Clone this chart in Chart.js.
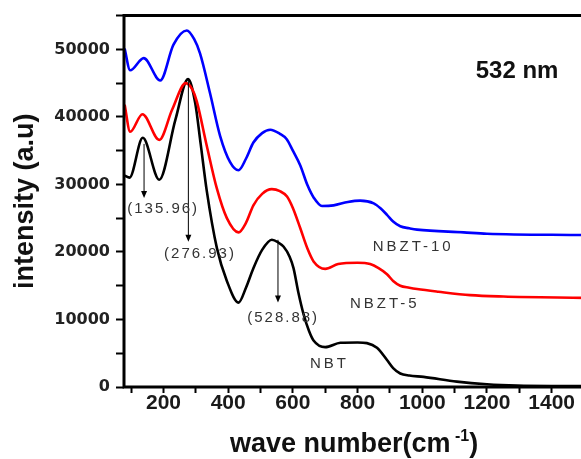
<!DOCTYPE html>
<html>
<head>
<meta charset="utf-8">
<script src="https://cdn.jsdelivr.net/npm/chart.js@4.4.1/dist/chart.umd.min.js"></script>
<style>
  html, body { margin: 0; padding: 0; background: #fff; overflow: hidden; width: 581px; height: 459px; }
  canvas { display: block; }
</style>
</head>
<body>
<canvas id="ramanChart" width="600" height="459"></canvas>
<script>
// Dados (espectro Raman, 532 nm)
const waveNBT = [80, 95, 136, 187, 237, 276, 298, 315, 334, 365, 396, 432, 455, 478, 505, 535, 555, 571, 590, 602, 617, 633, 650, 664, 700, 747, 800, 829, 860, 891, 910, 932, 960, 1004, 1107, 1200, 1293, 1400, 1500];
const intNBT  = [31300, 31000, 36900, 30700, 39600, 45600, 42100, 36000, 29000, 20600, 15700, 12500, 14700, 17600, 20300, 21800, 21400, 20800, 19300, 17600, 14000, 10800, 8300, 6900, 5900, 6550, 6600, 6500, 5800, 4000, 2800, 2000, 1700, 1500, 800, 400, 200, 150, 150];

const waveNBZT5 = [80, 97, 135, 187, 227, 269, 290, 303, 334, 365, 396, 432, 455, 478, 505, 535, 560, 582, 600, 623, 645, 664, 700, 740, 800, 839, 865, 891, 910, 932, 960, 984, 1050, 1148, 1251, 1500];
const intNBZT5  = [41800, 37800, 40400, 36600, 41100, 45000, 44000, 42300, 35700, 29400, 25000, 22900, 24300, 26900, 28600, 29300, 29000, 28200, 26500, 23500, 20500, 18600, 17500, 18200, 18400, 18200, 17600, 16700, 15700, 15000, 14700, 14500, 14100, 13600, 13400, 13200];

const waveNBZT10 = [80, 97, 139, 190, 231, 272, 295, 313, 344, 375, 406, 432, 455, 478, 505, 530, 560, 581, 600, 623, 645, 665, 690, 726, 770, 808, 850, 870, 891, 910, 932, 960, 984, 1128, 1200, 1500];
const intNBZT10  = [50100, 46900, 48700, 45400, 50700, 52800, 51500, 49400, 43500, 37200, 33300, 32100, 33800, 36200, 37600, 38100, 37500, 36700, 35000, 32800, 29900, 28000, 26800, 26900, 27400, 27600, 27200, 26500, 25500, 24500, 23800, 23500, 23300, 22900, 22700, 22500];

// Setas e rótulos dos picos
const peakLabels = ['(135.96)', '(276.93)', '(528.88)'];
const peakX      = [140, 277, 554];
const arrowFrom  = [36000, 45600, 21800];
const arrowTo    = [28000, 21500, 12500];
const labelX     = [199, 313, 570];
const labelY     = [26400, 19650, 10250];

// Nomes das amostras
const sampleNames = ['NBZT-10', 'NBZT-5', 'NBT'];
const sampleX     = [972, 884, 713];
const sampleY     = [20800, 12300, 3500];

const toPoints = (xs, ys) => xs.map((x, i) => ({ x: x, y: ys[i] }));

const decorPlugin = {
    id: 'decor',
    afterDraw(chart) {
        const c = chart.ctx;
        const a = chart.chartArea;
        const xs = chart.scales.x;
        const ys = chart.scales.y;

        // Moldura (topo, esquerda, base)
        c.save();
        c.strokeStyle = '#000';
        c.lineWidth = 3;
        c.beginPath();
        c.moveTo(a.right + 5, a.top);
        c.lineTo(a.left, a.top);
        c.lineTo(a.left, a.bottom);
        c.lineTo(a.right + 5, a.bottom);
        c.stroke();
        c.restore();

        // Setas dos picos
        c.save();
        c.strokeStyle = '#000';
        c.fillStyle = '#000';
        c.lineWidth = 1;
        peakX.forEach((px, i) => {
            const x = xs.getPixelForValue(px);
            const y1 = ys.getPixelForValue(arrowFrom[i]);
            const y2 = ys.getPixelForValue(arrowTo[i]);
            c.beginPath();
            c.moveTo(x, y1);
            c.lineTo(x, y2 - 6);
            c.stroke();
            c.beginPath();
            c.moveTo(x - 3, y2 - 7);
            c.lineTo(x + 3, y2 - 7);
            c.lineTo(x, y2);
            c.closePath();
            c.fill();
        });
        c.restore();

        // Rótulos dos picos
        c.save();
        c.fillStyle = '#333';
        c.font = '15px "Liberation Sans", Arial, sans-serif';
        c.letterSpacing = '2px';
        c.textAlign = 'center';
        c.textBaseline = 'middle';
        peakLabels.forEach((t, i) => {
            c.fillText(t, xs.getPixelForValue(labelX[i]), ys.getPixelForValue(labelY[i]));
        });
        c.letterSpacing = '3px';
        sampleNames.forEach((t, i) => {
            c.fillText(t, xs.getPixelForValue(sampleX[i]), ys.getPixelForValue(sampleY[i]));
        });
        c.letterSpacing = '0px';
        c.fillStyle = '#111';
        c.font = 'bold 24px "Liberation Sans", Arial, sans-serif';
        c.fillText('532 nm', xs.getPixelForValue(1293), ys.getPixelForValue(46800));
        c.restore();

        // Títulos dos eixos
        c.save();
        c.fillStyle = '#111';
        c.textBaseline = 'alphabetic';
        const main = 'wave number(cm';
        c.font = 'bold 27px "Liberation Sans", Arial, sans-serif';
        const w1 = c.measureText(main).width;
        c.font = 'bold 16px "Liberation Sans", Arial, sans-serif';
        const w2 = c.measureText(' -1').width;
        c.font = 'bold 27px "Liberation Sans", Arial, sans-serif';
        const w3 = c.measureText(')').width;
        let x0 = (a.left + a.right) / 2 - (w1 + w2 + w3) / 2;
        c.textAlign = 'left';
        c.fillText(main, x0, 452);
        c.font = 'bold 16px "Liberation Sans", Arial, sans-serif';
        c.fillText(' -1', x0 + w1, 441);
        c.font = 'bold 27px "Liberation Sans", Arial, sans-serif';
        c.fillText(')', x0 + w1 + w2, 452);

        c.translate(26, (a.top + a.bottom) / 2);
        c.rotate(-Math.PI / 2);
        c.textAlign = 'center';
        c.textBaseline = 'middle';
        c.font = 'bold 27px "Liberation Sans", Arial, sans-serif';
        c.fillText('intensity (a.u)', 0, 0);
        c.restore();
    }
};

const ctx = document.getElementById('ramanChart').getContext('2d');
const chart = new Chart(ctx, {
    type: 'line',
    data: {
        datasets: [
            {
                label: 'NBZT-10',
                data: toPoints(waveNBZT10, intNBZT10),
                borderColor: '#0000ff',
                borderWidth: 2.6,
                pointRadius: 0,
                cubicInterpolationMode: 'monotone',
                fill: false
            },
            {
                label: 'NBZT-5',
                data: toPoints(waveNBZT5, intNBZT5),
                borderColor: '#ff0000',
                borderWidth: 2.6,
                pointRadius: 0,
                cubicInterpolationMode: 'monotone',
                fill: false
            },
            {
                label: 'NBT',
                data: toPoints(waveNBT, intNBT),
                borderColor: '#000000',
                borderWidth: 2.6,
                pointRadius: 0,
                cubicInterpolationMode: 'monotone',
                fill: false
            }
        ]
    },
    options: {
        responsive: false,
        animation: false,
        layout: { padding: { top: 12, right: 16, left: 0, bottom: 0 } },
        plugins: {
            legend: { display: false },
            tooltip: { enabled: false }
        },
        scales: {
            x: {
                type: 'linear',
                min: 78,
                max: 1500,
                border: { display: false },
                grid: { drawOnChartArea: false, drawTicks: true, tickLength: 6, tickWidth: 2, tickColor: '#000' },
                afterBuildTicks: (scale) => {
                    const t = [];
                    for (let v = 100; v <= 1500; v += 100) t.push({ value: v });
                    scale.ticks = t;
                },
                afterFit: (scale) => { scale.height = 72; },
                ticks: {
                    autoSkip: false,
                    maxRotation: 0,
                    padding: -2,
                    color: '#1a1a1a',
                    font: { family: '"Liberation Sans", Arial, sans-serif', size: 21, weight: 'bold' },
                    callback: (v) => (v % 200 === 0 ? String(v) : '')
                }
            },
            y: {
                min: 0,
                max: 55000,
                border: { display: false },
                grid: { drawOnChartArea: false, drawTicks: true, tickLength: 8, tickWidth: 2, tickColor: '#000' },
                afterBuildTicks: (scale) => {
                    const t = [];
                    for (let v = 0; v <= 55000; v += 5000) t.push({ value: v });
                    scale.ticks = t;
                },
                afterFit: (scale) => { scale.width = 124; },
                ticks: {
                    padding: 6,
                    color: '#222',
                    font: { family: '"DejaVu Sans", sans-serif', size: 16, weight: 'bold' },
                    callback: (v) => (v % 10000 === 0 ? String(v) : '')
                }
            }
        }
    },
    plugins: [decorPlugin]
});
</script>
</body>
</html>
